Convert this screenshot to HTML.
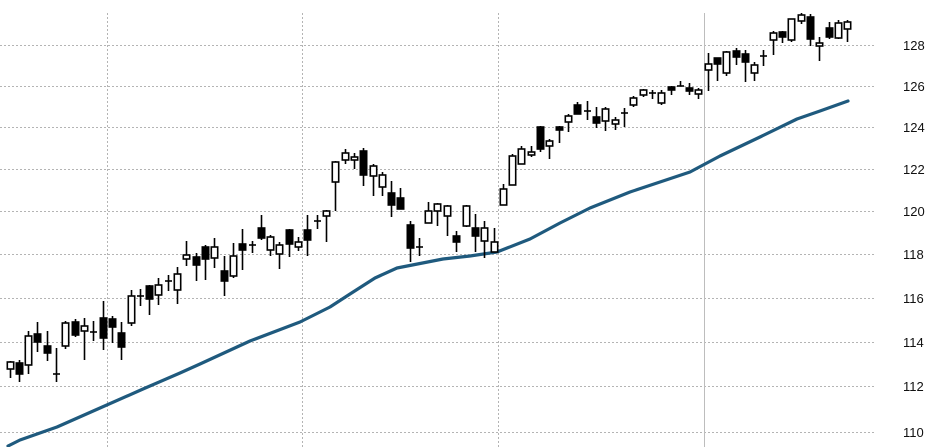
<!DOCTYPE html>
<html><head><meta charset="utf-8"><style>
html,body{margin:0;padding:0;background:#fff;width:929px;height:447px;overflow:hidden}
svg{display:block}
text{font-family:"Liberation Sans",Arial,sans-serif;font-size:13px;fill:#111}
</style></head><body>
<svg id="c" width="929" height="447" viewBox="0 0 929 447" xmlns="http://www.w3.org/2000/svg">
<g stroke="#b4b4b4" stroke-width="1" stroke-dasharray="2,2">
<line x1="0" y1="432.5" x2="876" y2="432.5"/>
<line x1="0" y1="386.5" x2="876" y2="386.5"/>
<line x1="0" y1="342.5" x2="876" y2="342.5"/>
<line x1="0" y1="298.5" x2="876" y2="298.5"/>
<line x1="0" y1="254.5" x2="876" y2="254.5"/>
<line x1="0" y1="211.5" x2="876" y2="211.5"/>
<line x1="0" y1="169.5" x2="876" y2="169.5"/>
<line x1="0" y1="127.5" x2="876" y2="127.5"/>
<line x1="0" y1="86.5" x2="876" y2="86.5"/>
<line x1="0" y1="45.5" x2="876" y2="45.5"/>
<line x1="107.5" y1="13" x2="107.5" y2="447"/>
<line x1="302.5" y1="13" x2="302.5" y2="447"/>
<line x1="498.5" y1="13" x2="498.5" y2="447"/>
</g>
<line x1="704.5" y1="13" x2="704.5" y2="447" stroke="#bdbdbd" stroke-width="1"/>
<g>
<text x="903" y="437">110</text>
<text x="903" y="391">112</text>
<text x="903" y="347">114</text>
<text x="903" y="303">116</text>
<text x="903" y="259">118</text>
<text x="903" y="216">120</text>
<text x="903" y="174">122</text>
<text x="903" y="132">124</text>
<text x="903" y="91">126</text>
<text x="903" y="50">128</text>
</g>
<polyline fill="none" stroke="#1f5a7e" stroke-width="3.2" stroke-linejoin="round" stroke-linecap="round" points="8,446 20,440 57,427 100,408 143,389 180,373 200,364 250,341 300,322 330,307 350,294 375,278 397,268 443,259 470,256 497,252 530,239 560,223 590,208 630,192 660,182 690,172 720,156 760,137 797,119 820,111 848,101"/>
<g id="k"></g>
</svg>
<script>
var d=[
[10,361,378,362,369,0],[19,360,382,363,374,1],[28,331,374,336,365,0],[37,322,352,334,342,1],[47,331,361,346,353,1],[56,348,382,374,374,2],[65,321,349,323,346,0],[75,319,337,322,335,1],[84,318,360,326,331,0],[93,321,341,332,332,2],[103,301,350,318,338,1],[112,316,343,319,327,1],[121,322,360,333,347,1],[131,290,326,296,323,0],[140,289,306,296,296,2],[149,285,315,286,299,1],[158,278,305,285,295,0],[168,275,291,281,281,2],[177,267,304,274,290,0],[186,241,266,255,259,0],[196,253,281,257,265,1],[205,245,280,247,259,1],[214,238,268,247,258,0],[224,256,296,271,281,1],[233,243,278,256,276,0],[242,229,270,244,250,1],[252,241,253,245,245,2],[261,215,240,228,238,1],[270,235,256,237,250,0],[279,242,269,245,254,0],[289,229,257,230,244,1],[298,237,251,242,247,0],[307,215,256,230,240,1],[317,215,229,221,221,2],[326,210,242,211,216,0],[335,161,211,162,182,0],[345,149,164,153,160,0],[354,153,169,157,160,0],[363,148,186,151,175,1],[373,164,196,166,176,0],[382,172,196,175,187,0],[391,181,217,193,205,1],[400,188,209,198,209,1],[410,221,262,225,248,1],[419,238,256,247,247,2],[428,202,223,211,223,0],[437,203,226,204,211,0],[447,205,236,206,216,0],[456,231,252,236,242,1],[466,205,227,206,226,0],[475,214,252,228,236,1],[484,221,258,228,241,0],[494,228,252,242,252,0],[503,184,205,189,205,0],[512,154,185,156,185,0],[521,146,164,149,164,0],[531,146,157,152,155,0],[540,126,152,127,149,1],[549,139,159,141,146,0],[559,126,143,127,130,1],[568,114,132,116,122,0],[577,102,114,105,114,1],[587,101,120,111,111,2],[596,107,128,117,123,1],[605,107,131,109,121,0],[615,117,130,120,124,0],[624,108,127,113,113,2],[633,96,107,98,105,0],[643,89,97,90,95,0],[652,90,99,93,93,2],[661,90,105,93,103,0],[671,86,95,87,89,1],[680,81,86,86,86,2],[689,83,95,88,90,1],[698,88,99,90,94,0],[708,53,91,64,70,0],[717,58,81,58,64,1],[726,51,76,52,73,0],[736,48,65,51,57,1],[745,50,82,54,62,1],[754,62,81,65,73,0],[763,50,66,56,56,2],[773,31,55,33,40,0],[782,31,43,32,37,1],[791,19,42,19,40,0],[801,13,24,15,21,0],[810,14,46,17,39,1],[819,37,61,43,45,0],[829,22,39,28,37,1],[838,20,39,23,38,0],[847,20,42,22,29,0]];
var s='';
d.forEach(function(c){var x=c[0]+0.5;
s+='<line x1="'+x+'" y1="'+c[1]+'" x2="'+x+'" y2="'+c[2]+'" stroke="#000" stroke-width="1.6"/>';
if(c[5]==2){s+='<line x1="'+(x-3.5)+'" y1="'+c[3]+'" x2="'+(x+3.5)+'" y2="'+c[3]+'" stroke="#000" stroke-width="1.6"/>';}
else{var h=Math.max(c[4]-c[3],3);s+='<rect x="'+(x-3.2)+'" y="'+c[3]+'" width="6.4" height="'+h+'" fill="'+(c[5]?'#000':'#fff')+'" stroke="#000" stroke-width="1.6"/>';}
});
document.getElementById('k').innerHTML=s;
</script>
</body></html>
